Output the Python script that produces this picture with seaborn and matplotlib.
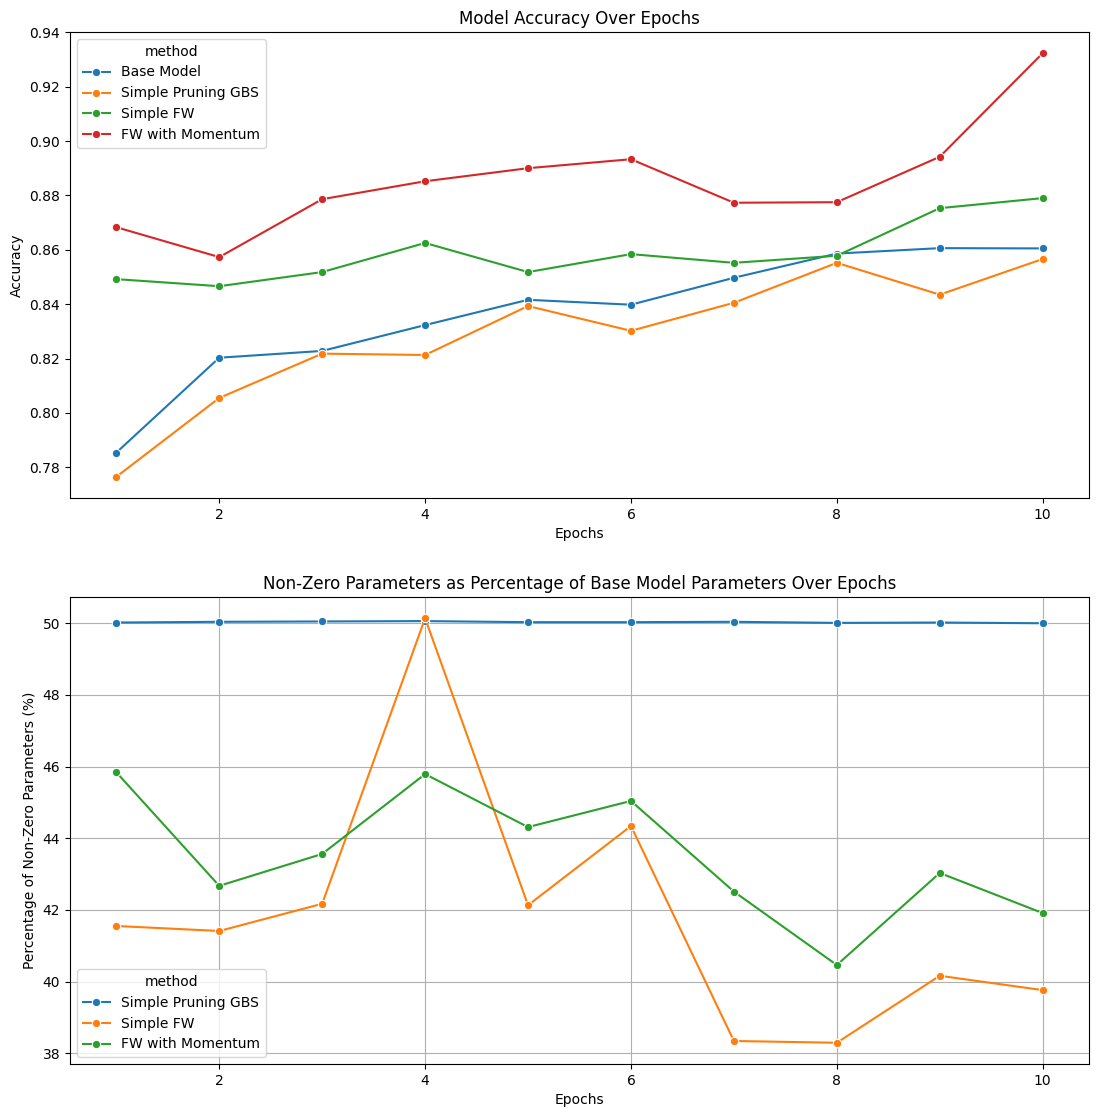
import matplotlib
matplotlib.use("Agg")
import matplotlib.pyplot as plt
import seaborn as sns
import pandas as pd

epochs = [1, 2, 3, 4, 5, 6, 7, 8, 9, 10]

acc_methods = ["Base Model", "Simple Pruning GBS", "Simple FW", "FW with Momentum"]
acc_base = [0.7854, 0.8203, 0.8228, 0.8323, 0.8416, 0.8398, 0.8497, 0.8586, 0.8606, 0.8605]
acc_gbs = [0.7765, 0.8055, 0.8218, 0.8213, 0.8393, 0.8302, 0.8405, 0.8552, 0.8435, 0.8566]
acc_fw = [0.8492, 0.8466, 0.8518, 0.8625, 0.8518, 0.8584, 0.8552, 0.8578, 0.8753, 0.8790]
acc_fwm = [0.8683, 0.8573, 0.8786, 0.8852, 0.8900, 0.8933, 0.8773, 0.8775, 0.8942, 0.9323]

nz_methods = ["Simple Pruning GBS", "Simple FW", "FW with Momentum"]
nz_gbs = [50.02, 50.04, 50.05, 50.06, 50.03, 50.03, 50.04, 50.01, 50.02, 50.00]
nz_fw = [41.55, 41.41, 42.17, 50.14, 42.13, 44.34, 38.34, 38.29, 40.16, 39.76]
nz_fwm = [45.84, 42.67, 43.56, 45.79, 44.31, 45.04, 42.51, 40.46, 43.03, 41.91]


def long_df(methods, series, col):
    rows = []
    for m, vals in zip(methods, series):
        for e, v in zip(epochs, vals):
            rows.append({"Epochs": e, col: v, "method": m})
    return pd.DataFrame(rows)


df_acc = long_df(acc_methods, [acc_base, acc_gbs, acc_fw, acc_fwm], "Accuracy")
df_nz = long_df(nz_methods, [nz_gbs, nz_fw, nz_fwm], "Pct")

fig, (ax1, ax2) = plt.subplots(2, 1, figsize=(10.98, 11.17), dpi=100)
ax1.set_position([70 / 1098, 1 - 498 / 1117, 1019 / 1098, 466 / 1117])
ax2.set_position([70 / 1098, 1 - 1064 / 1117, 1019 / 1098, 467 / 1117])

sns.lineplot(data=df_acc, x="Epochs", y="Accuracy", hue="method", marker="o", ax=ax1)
ax1.set_title("Model Accuracy Over Epochs")
ax1.set_xlabel("Epochs")
ax1.set_ylabel("Accuracy")
ax1.legend(title="method", loc="upper left")

sns.lineplot(data=df_nz, x="Epochs", y="Pct", hue="method", marker="o", ax=ax2)
ax2.set_title("Non-Zero Parameters as Percentage of Base Model Parameters Over Epochs")
ax2.set_xlabel("Epochs")
ax2.set_ylabel("Percentage of Non-Zero Parameters (%)")
ax2.grid(True)
ax2.legend(title="method", loc="lower left")

fig.savefig("out.png", dpi=100)
